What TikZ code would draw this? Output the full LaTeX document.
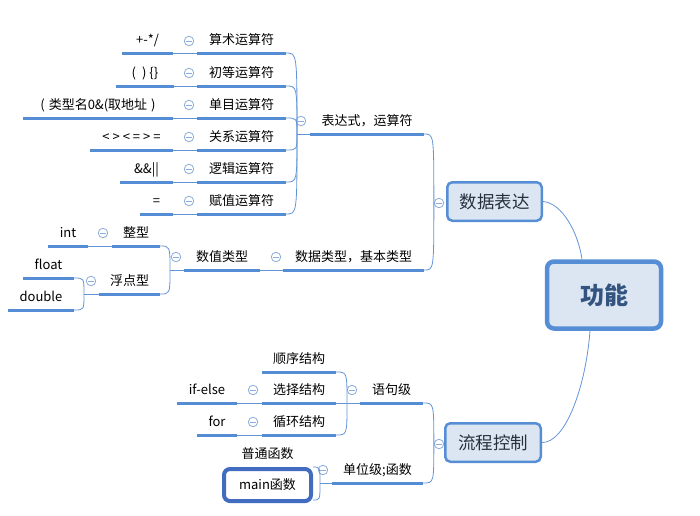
\documentclass[tikz,border=0pt]{standalone}
\usepackage{fontspec}
\setmainfont{Noto Sans CJK SC}
\definecolor{ubl}{RGB}{84,141,212}
\definecolor{cbl}{RGB}{98,148,215}
\definecolor{ccirc}{RGB}{140,172,218}
\definecolor{tfill}{RGB}{220,230,242}
\definecolor{tbord}{RGB}{85,142,213}
\definecolor{gtext}{RGB}{52,84,128}
\definecolor{stext}{RGB}{40,48,64}
\definecolor{selb}{RGB}{66,108,192}
\tikzset{
  item/.style={anchor=south, inner xsep=0pt, inner ysep=3pt, text height=10pt, text depth=5pt,
    font=\fontsize{13}{15}\selectfont, text=black},
  uline/.style={draw=ubl, line width=3pt},
  conn/.style={draw=cbl, line width=0.8pt},
  coll/.style={circle, draw=ccirc, fill=white, line width=0.8pt, minimum size=9.5pt, inner sep=0pt,
    path picture={\draw[ccirc,line width=0.8pt] ([xshift=-2.6pt]path picture bounding box.center) -- ([xshift=2.6pt]path picture bounding box.center);}},
  topic/.style={draw=tbord, fill=tfill, rounded corners=5pt, line width=2.5pt, inner sep=0pt,
    font=\fontsize{17.5}{20}\selectfont, text=stext},
}
\begin{document}
\begin{tikzpicture}[x=1pt,y=-1pt]
\useasboundingbox (0,0) rectangle (700,515);
% central topic
\node[draw=tbord, fill=tfill, rounded corners=7pt, line width=4.5pt, minimum width=114pt, minimum height=67pt,
  font=\fontsize{24}{28}\selectfont\bfseries, text=gtext] (gn) at (604,295) {功能};
\node[topic, minimum width=94.5pt, minimum height=38.5pt] (sj) at (494.5,201.5) {数据表达};
\node[topic, minimum width=95.5pt, minimum height=38.5pt] (lc) at (493,442.5) {流程控制};
\draw[conn] (sj.east) .. controls (562,203) and (578,232) .. ([xshift=-22pt]gn.north);
\draw[conn] (lc.east) .. controls (566,443) and (586,385) .. ([xshift=-14pt]gn.south);

% level 1 under 数据表达
\node[item, minimum width=114pt] (expr) at (367,134) {表达式，运算符};
\node[item, minimum width=141pt] (dtype) at (353.5,270) {数据类型，基本类型};
% level 2 operators
\node[item, minimum width=89pt] (c1) at (241.5,53) {算术运算符};
\node[item, minimum width=89pt] (c2) at (241.5,86) {初等运算符};
\node[item, minimum width=89pt] (c3) at (241.5,118) {单目运算符};
\node[item, minimum width=89pt] (c4) at (241.5,150) {关系运算符};
\node[item, minimum width=89pt] (c5) at (241.5,182) {逻辑运算符};
\node[item, minimum width=89pt] (c6) at (241.5,214) {赋值运算符};
\node[item, minimum width=51pt] (l1) at (147.5,53) {+-*/};
\node[item, minimum width=58pt] (l2) at (145,86) {(\hspace{6pt})\hspace{3pt}\{\}};
\node[item, minimum width=150pt] (l3) at (98,118) {(\hspace{4pt}类型名0\&(取地址\hspace{4pt})};
\node[item, minimum width=83pt] (l4) at (131.5,150) {<\hspace{3pt}>\hspace{3pt}<\hspace{3pt}=\hspace{3pt}>\hspace{3pt}=};
\node[item, minimum width=53pt] (l5) at (146.5,182) {\&\&||};
\node[item, minimum width=33pt] (l6) at (156.5,214) {=};
% data types
\node[item, minimum width=76pt] (num) at (222,270) {数值类型};
\node[item, minimum width=48pt] (intt) at (136,246) {整型};
\node[item, minimum width=61pt] (flt) at (129.5,294) {浮点型};
\node[item, minimum width=40pt] (int) at (68,246) {int};
\node[item, minimum width=51pt] (float) at (48.5,278) {float};
\node[item, minimum width=66pt] (double) at (41,310) {double};
% flow control
\node[item, minimum width=63pt] (stmt) at (391.5,403) {语句级};
\node[item, minimum width=74pt] (seq) at (299,372) {顺序结构};
\node[item, minimum width=74pt] (sel) at (299,403) {选择结构};
\node[item, minimum width=74pt] (loop) at (299,435) {循环结构};
\node[item, minimum width=60pt] (ifelse) at (207,403) {if-else};
\node[item, minimum width=40pt] (for) at (217,435) {for};
\node[item, minimum width=91pt] (unit) at (377.5,483) {单位级;函数};
\node[item, minimum width=91pt] (pt) at (267.5,467) {普通函数};

% underlines
\foreach \n in {expr,dtype,c1,c2,c3,c4,c5,c6,l1,l2,l3,l4,l5,l6,num,intt,flt,int,float,double,stmt,seq,sel,loop,ifelse,for,unit}
  \draw[uline] (\n.south west) -- (\n.south east);

% collapse circles
\node[coll] (k0) at (439,203) {};
\node[coll] (k1) at (439,444) {};
\node[coll] (kexpr) at (301,121) {};
\node[coll] (kdtype) at (276,257) {};
\node[coll] (knum) at (176,257) {};
\node[coll] (kint) at (103,233) {};
\node[coll] (kflt) at (91,281) {};
\node[coll] (kc1) at (189,41) {};
\node[coll] (kc2) at (189,73) {};
\node[coll] (kc3) at (189,105) {};
\node[coll] (kc4) at (189,137) {};
\node[coll] (kc5) at (189,169) {};
\node[coll] (kc6) at (189,201) {};
\node[coll] (kstmt) at (352,390) {};
\node[coll] (ksel) at (253,390) {};
\node[coll] (kloop) at (253,422) {};
\node[coll] (kunit) at (323,470) {};

% junctions
\coordinate (jexpr) at (297,134);
\coordinate (jnum) at (170,270);
\coordinate (jflt) at (84,294);
\coordinate (jstmt) at (347,403);
\coordinate (junit) at (320,483);

% 数据表达 branches
\foreach \c in {expr,dtype}
  \draw[conn] (k0.west) .. controls (k0.west |- \c.south east) .. (\c.south east);
\draw[conn] (jexpr) -- (expr.south west);
\foreach \c in {c1,c2,c3,c4,c5,c6}
  \draw[conn] (jexpr) .. controls (jexpr |- \c.south east) .. (\c.south east);
\draw[conn] (c1.south west) -- (l1.south east);
\draw[conn] (c2.south west) -- (l2.south east);
\draw[conn] (c3.south west) -- (l3.south east);
\draw[conn] (c4.south west) -- (l4.south east);
\draw[conn] (c5.south west) -- (l5.south east);
\draw[conn] (c6.south west) -- (l6.south east);
\draw[conn] (dtype.south west) -- (num.south east);
\draw[conn] (jnum) -- (num.south west);
\foreach \c in {intt,flt}
  \draw[conn] (jnum) .. controls (jnum |- \c.south east) .. (\c.south east);
\draw[conn] (intt.south west) -- (int.south east);
\draw[conn] (jflt) -- (flt.south west);
\foreach \c in {float,double}
  \draw[conn] (jflt) .. controls (jflt |- \c.south east) .. (\c.south east);

% 流程控制 branches
\foreach \c in {stmt,unit}
  \draw[conn] (k1.west) .. controls (k1.west |- \c.south east) .. (\c.south east);
\draw[conn] (jstmt) -- (stmt.south west);
\foreach \c in {seq,loop}
  \draw[conn] (jstmt) .. controls (jstmt |- \c.south east) .. (\c.south east);
\draw[conn] (sel.south east) -- (jstmt);
\draw[conn] (sel.south west) -- (ifelse.south east);
\draw[conn] (loop.south west) -- (for.south east);
\draw[conn] (junit) -- (unit.south west);
\coordinate (mainend) at (313,500);
\draw[conn] (junit) .. controls (junit |- pt.south east) .. (pt.south east);
\draw[conn] (junit) .. controls (junit |- mainend) .. (mainend);
% selected main函数 node
\node[draw=selb, line width=4pt, rounded corners=6pt, fill=white, minimum width=87pt, minimum height=32pt,
  inner sep=0pt, font=\fontsize{13}{15}\selectfont] (mainf) at (267.5,485) {main函数};
\end{tikzpicture}
\end{document}
